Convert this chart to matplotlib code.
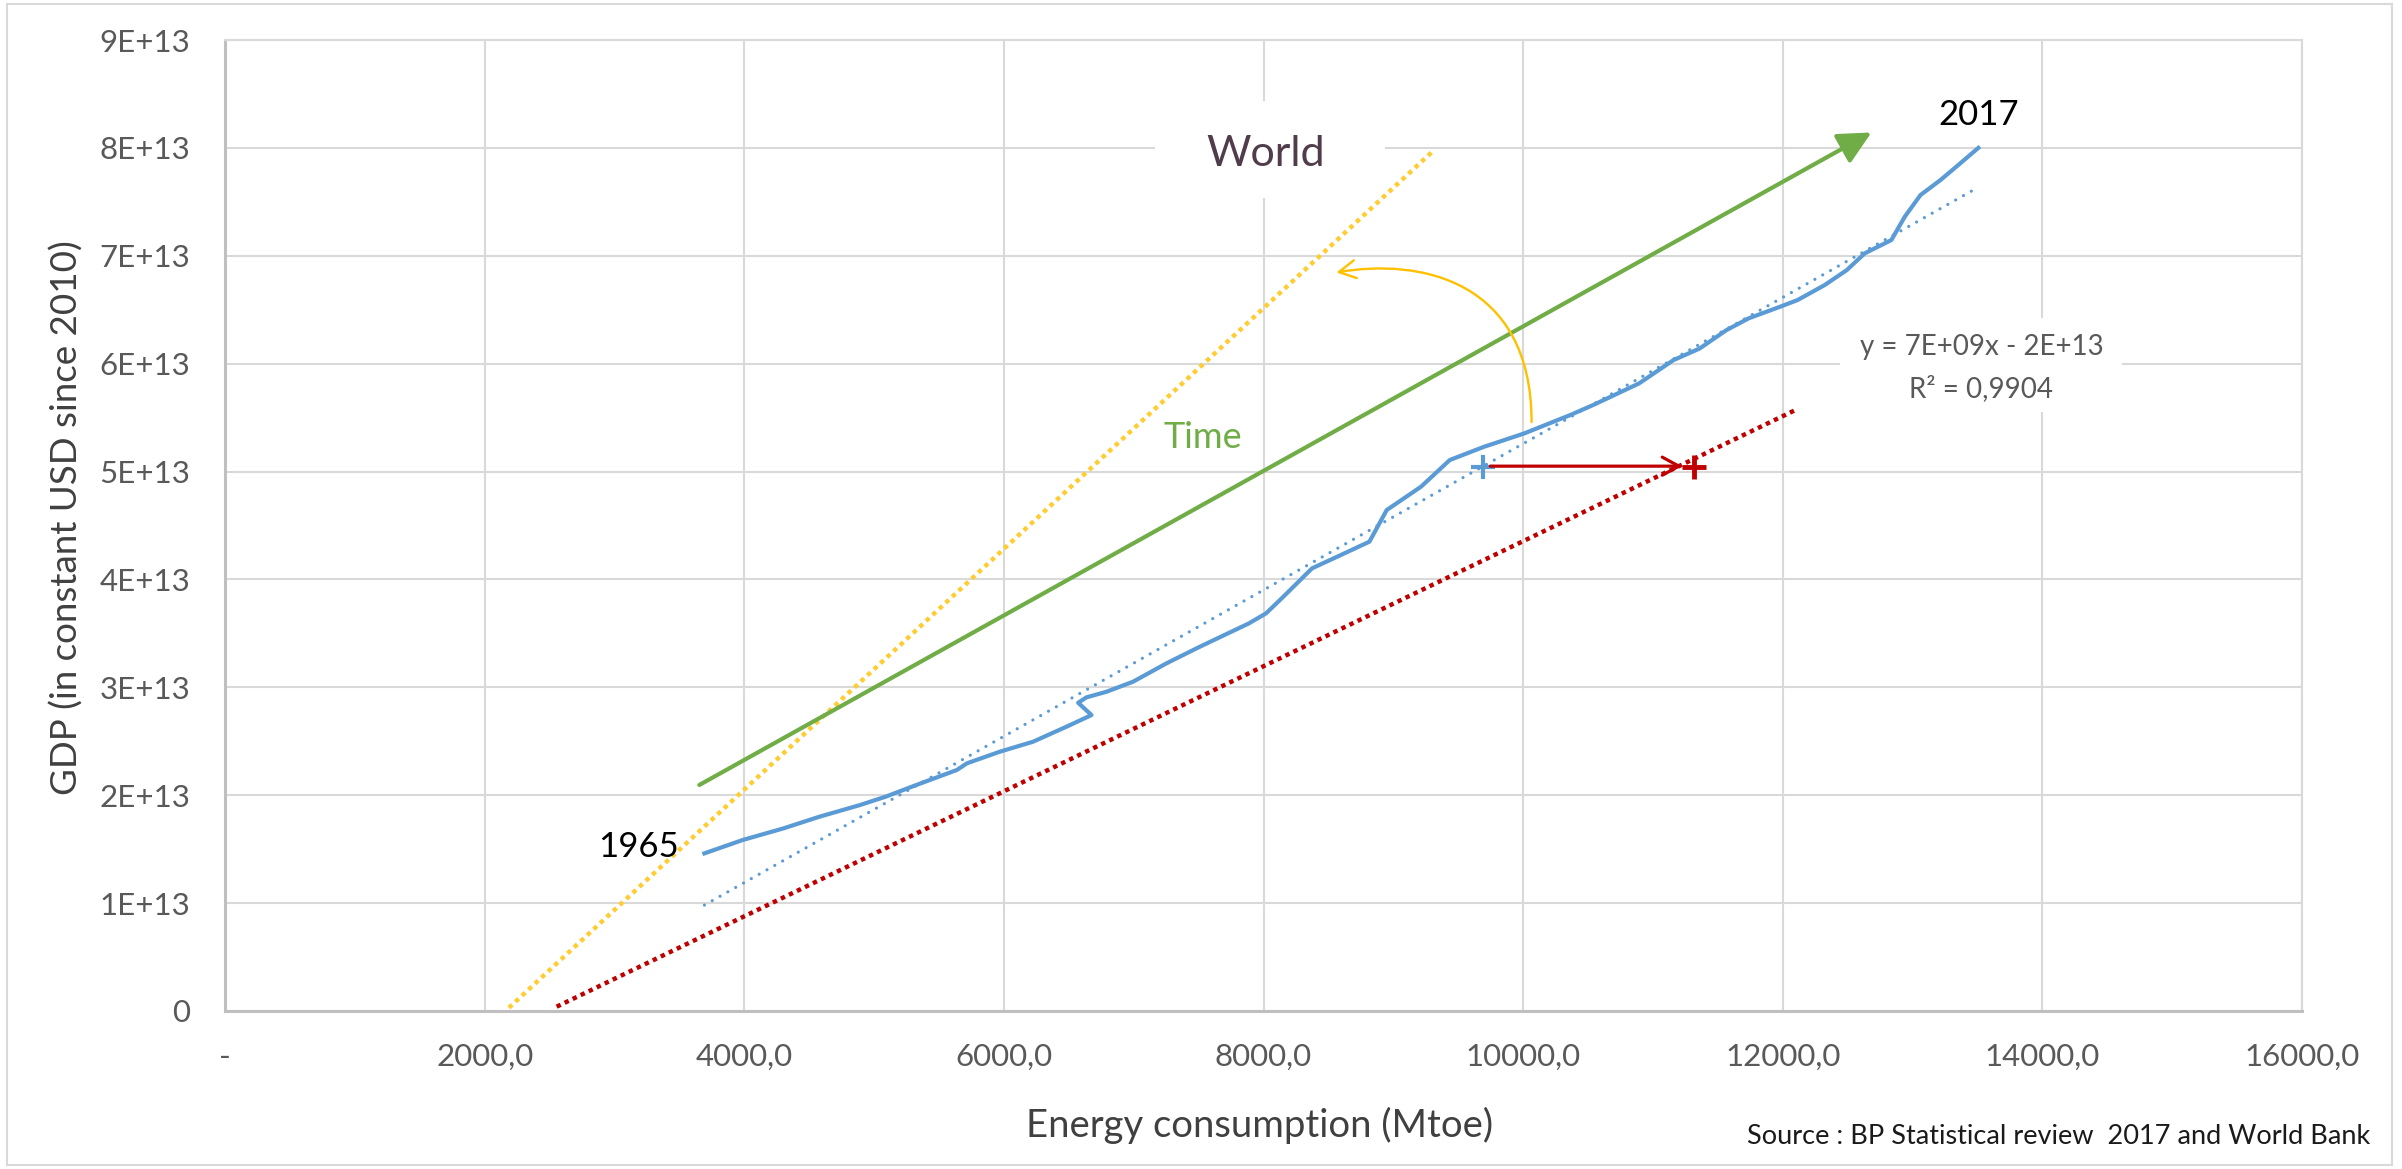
import matplotlib
matplotlib.use("Agg")
import matplotlib.pyplot as plt
from matplotlib.patches import Rectangle, FancyArrowPatch, ArrowStyle
from matplotlib.path import Path

plt.rcParams['font.family'] = ['Lato', 'DejaVu Sans']

# ---------------- data ----------------
# World energy consumption (Mtoe) vs GDP (constant 2010 USD), 1965 -> 2017
energy = [3693, 3988, 4303, 4577, 4892, 5088, 5324, 5638, 5716, 5968,
          6225, 6482, 6675, 6572, 6636, 6790, 6995, 7252, 7509, 7888,
          8020, 8153, 8374, 8595, 8816, 8949, 9214, 9435, 9700, 10010,
          10363, 10540, 10893, 11158, 11359, 11565, 11737, 11978, 12115, 12322,
          12493, 12631, 12837, 12940, 13061, 13215, 13352, 13507]
gdp = [1.461e13, 1.585e13, 1.693e13, 1.800e13, 1.909e13, 1.986e13, 2.094e13, 2.234e13, 2.296e13, 2.403e13,
       2.496e13, 2.635e13, 2.743e13, 2.857e13, 2.907e13, 2.959e13, 3.052e13, 3.222e13, 3.376e13, 3.593e13,
       3.686e13, 3.840e13, 4.103e13, 4.226e13, 4.350e13, 4.643e13, 4.860e13, 5.107e13, 5.230e13, 5.354e13,
       5.524e13, 5.617e13, 5.817e13, 6.033e13, 6.140e13, 6.310e13, 6.420e13, 6.527e13, 6.590e13, 6.728e13,
       6.867e13, 7.022e13, 7.146e13, 7.362e13, 7.563e13, 7.702e13, 7.841e13, 8.000e13]

# linear trend line (Excel): y = 7E+09x - 2E+13
trend_x = [3693, 13507]
trend_slope = 6.78e9
trend_intercept = -1.522e13

# illustrative lines
yellow_x = [2187, 9314]
yellow_y = [0.03e13, 7.98e13]
red_x = [2555, 12097]
red_y = [0.04e13, 5.57e13]
green_x = [3654, 12683]
green_y = [2.095e13, 8.143e13]

# markers and arrows
blue_pt = (9691, 5.04e13)
red_pt = (11313, 5.045e13)
red_arrow_x = [9747, 11226]
red_arrow_y = 5.05e13
curve_x = [10065, 10065, 9203, 8562]
curve_y = [5.46e13, 6.775e13, 6.979e13, 6.845e13]

xticks = [0, 2000, 4000, 6000, 8000, 10000, 12000, 14000, 16000]
xtick_labels = ['-', '2000,0', '4000,0', '6000,0', '8000,0', '10000,0', '12000,0', '14000,0', '16000,0']
yticks = [0, 1e13, 2e13, 3e13, 4e13, 5e13, 6e13, 7e13, 8e13, 9e13]
ytick_labels = ['0', '1E+13', '2E+13', '3E+13', '4E+13', '5E+13', '6E+13', '7E+13', '8E+13', '9E+13']

# ---------------- figure ----------------
W, H = 2402, 1169
fig = plt.figure(figsize=(W / 100, H / 100), dpi=100)
fig.patch.set_facecolor('white')
ax = fig.add_axes([225 / W, 1 - 1011 / H, (2302 - 225) / W, (1011 - 40) / H])

ax.set_xlim(0, 16000)
ax.set_ylim(0, 9e13)
ax.set_xticks(xticks)
ax.set_xticklabels(xtick_labels)
ax.set_yticks(yticks)
ax.set_yticklabels(ytick_labels)
ax.tick_params(axis='both', length=0, labelsize=22.5, labelcolor='#595959')
ax.tick_params(axis='x', pad=23)
ax.tick_params(axis='y', pad=25)
ax.set_axisbelow(True)
ax.grid(True, color='#D9D9D9', lw=1.5)
for s in ['top', 'right']:
    ax.spines[s].set_color('#D9D9D9')
    ax.spines[s].set_linewidth(1.5)
for s in ['left', 'bottom']:
    ax.spines[s].set_color('#BFBFBF')
    ax.spines[s].set_linewidth(2.2)

# white boxes behind title and trend label
ax.add_patch(Rectangle((1155 / W, 1 - 198 / H), 230 / W, 97 / H, transform=fig.transFigure,
                       fc='white', ec='none', zorder=1, clip_on=False))
ax.add_patch(Rectangle((1840 / W, 1 - 412 / H), 282 / W, 94 / H, transform=fig.transFigure,
                       fc='white', ec='none', zorder=1, clip_on=False))

# dotted guide lines
ax.plot(yellow_x, yellow_y, color='#FFCD33', lw=3.2, linestyle=(0, (1, 1)), zorder=2)
ax.plot(red_x, red_y, color='#C00000', lw=3.2, linestyle=(0, (1, 1)), zorder=2)

# green "Time" arrow
ax.add_patch(FancyArrowPatch((green_x[0], green_y[0]), (green_x[1], green_y[1]),
                             arrowstyle=ArrowStyle('-|>', head_length=20, head_width=10),
                             mutation_scale=1, lw=3.0, color='#70AD47',
                             shrinkA=0, shrinkB=0, zorder=3))

# main curve
ax.plot(energy, gdp, color='#5B9BD5', lw=3.0, zorder=4, solid_joinstyle='round')

# trend line
trend_y = [trend_slope * x + trend_intercept for x in trend_x]
ax.plot(trend_x, trend_y, color='#5B9BD5', lw=2.3, linestyle=(0, (0.01, 2.8)),
        dash_capstyle='round', zorder=4)

# markers
ax.plot([blue_pt[0]], [blue_pt[1]], marker='+', ms=17, mew=3, color='#5B9BD5', zorder=5)
ax.plot([red_pt[0]], [red_pt[1]], marker='+', ms=17, mew=3.5, color='#C00000', zorder=5)

# red horizontal arrow
ax.add_patch(FancyArrowPatch((red_arrow_x[0], red_arrow_y), (red_arrow_x[1], red_arrow_y),
                             arrowstyle=ArrowStyle('->', head_length=12, head_width=6.5),
                             mutation_scale=1, lw=2.3, color='#C00000',
                             shrinkA=0, shrinkB=0, zorder=5))

# curved orange arrow
curve_path = Path(list(zip(curve_x, curve_y)),
                  [Path.MOVETO, Path.CURVE4, Path.CURVE4, Path.CURVE4])
ax.add_patch(FancyArrowPatch(path=curve_path,
                             arrowstyle=ArrowStyle('->', head_length=12, head_width=6.5),
                             mutation_scale=1, lw=1.7, color='#FFC000', zorder=5))

# texts
fig.text(1266 / W, 1 - 154 / H, 'World', ha='center', va='center', fontsize=31, color='#503C4B')
ax.text(7532, 5.32e13, 'Time', ha='center', va='center', fontsize=26, color='#70AD47', zorder=6)
ax.text(3497, 1.43e13, '1965', ha='right', va='baseline', fontsize=25, color='black', zorder=6)
ax.text(13508, 8.211e13, '2017', ha='center', va='baseline', fontsize=25, color='black', zorder=6)
ax.text(13531, 6.08e13, 'y = 7E+09x - 2E+13', ha='center', va='baseline', fontsize=20,
        color='#595959', zorder=6)
ax.text(13531, 5.693e13, 'R² = 0,9904', ha='center', va='baseline', fontsize=20,
        color='#595959', zorder=6)

fig.text(67 / W, 1 - 518 / H, 'GDP (in constant USD since 2010)', rotation=90,
         ha='center', va='center', fontsize=26.5, color='#404040')
fig.text(1260 / W, 1 - 1125 / H, 'Energy consumption (Mtoe)', ha='center', va='center',
         fontsize=27.5, color='#404040')
fig.text(2370 / W, 1 - 1137 / H, 'Source : BP Statistical review  2017 and World Bank',
         ha='right', va='center', fontsize=19.5, color='#1a1a1a')

# chart border
fig.patches.append(Rectangle((7 / W, 1 - 1165 / H), (2392 - 7) / W, (1165 - 4) / H,
                             transform=fig.transFigure, fill=False, ec='#D9D9D9', lw=1.5))

fig.savefig('out.png', dpi=100)
